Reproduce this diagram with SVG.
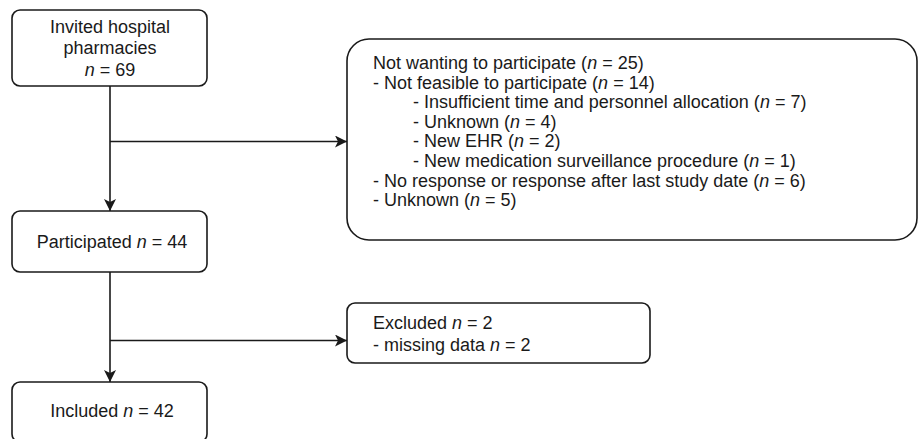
<svg xmlns="http://www.w3.org/2000/svg" width="920" height="439" viewBox="0 0 920 439">
<style>
  .box { fill: #ffffff; stroke: #1a1a1a; stroke-width: 1.6; }
  .edge { fill: none; stroke: #1a1a1a; stroke-width: 1.6; }
  text { font-family: "Liberation Sans", Arial, sans-serif; font-size: 18px; fill: #1a1a1a; }
  .c { text-anchor: middle; }
  .i { font-style: italic; }
</style>
<defs>
  <marker id="arr" viewBox="0 0 12 12" refX="12" refY="6" markerWidth="12" markerHeight="12" markerUnits="userSpaceOnUse" orient="auto">
    <path d="M0,0 L12,6 L0,12 L3,6 Z" fill="#1a1a1a"/>
  </marker>
</defs>
<rect width="920" height="439" fill="#ffffff"/>
<g id="connectors">
  <line class="edge" x1="110" y1="86" x2="110" y2="211" marker-end="url(#arr)"/>
  <line class="edge" x1="110" y1="141.5" x2="347" y2="141.5" marker-end="url(#arr)"/>
  <line class="edge" x1="110" y1="272" x2="110" y2="382" marker-end="url(#arr)"/>
  <line class="edge" x1="110" y1="340.5" x2="347" y2="340.5" marker-end="url(#arr)"/>
</g>
<g id="invited">
  <rect class="box" x="12" y="10" width="195" height="76" rx="8"/>
  <text class="c" x="110" y="33">Invited hospital</text>
  <text class="c" x="110" y="54">pharmacies</text>
  <text class="c" x="110" y="75.5"><tspan class="i">n</tspan> = 69</text>
</g>
<g id="notparticipating">
  <rect class="box" x="347" y="39" width="570" height="201" rx="22"/>
  <text x="373" y="69">Not wanting to participate (<tspan class="i">n</tspan> = 25)</text>
  <text x="373" y="88.6">- Not feasible to participate (<tspan class="i">n</tspan> = 14)</text>
  <text x="413" y="108.2">- Insufficient time and personnel allocation (<tspan class="i">n</tspan> = 7)</text>
  <text x="413" y="127.8">- Unknown (<tspan class="i">n</tspan> = 4)</text>
  <text x="413" y="147.4">- New EHR (<tspan class="i">n</tspan> = 2)</text>
  <text x="413" y="167">- New medication surveillance procedure (<tspan class="i">n</tspan> = 1)</text>
  <text x="373" y="186.6">- No response or response after last study date (<tspan class="i">n</tspan> = 6)</text>
  <text x="373" y="206.2">- Unknown (<tspan class="i">n</tspan> = 5)</text>
</g>
<g id="participated">
  <rect class="box" x="12" y="211" width="195" height="61" rx="8"/>
  <text class="c" x="112" y="248">Participated <tspan class="i">n</tspan> = 44</text>
</g>
<g id="excluded">
  <rect class="box" x="347" y="303" width="303" height="60" rx="8"/>
  <text x="373" y="329">Excluded <tspan class="i">n</tspan> = 2</text>
  <text x="373" y="351">- missing data <tspan class="i">n</tspan> = 2</text>
</g>
<g id="included">
  <rect class="box" x="12" y="382" width="195" height="60" rx="8"/>
  <text class="c" x="112" y="417">Included <tspan class="i">n</tspan> = 42</text>
</g>
</svg>
